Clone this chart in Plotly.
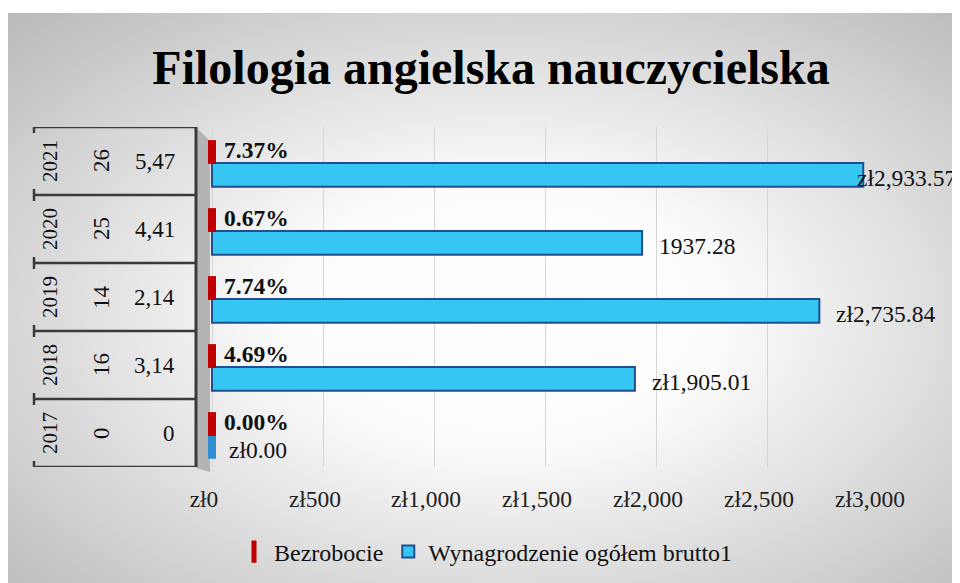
import base64
import plotly.graph_objects as go

# ---- data (top row first) ----
years = ["2021", "2020", "2019", "2018", "2017"]
graduates = ["26", "25", "14", "16", "0"]
ratio = ["5,47", "4,41", "2,14", "3,14", "0"]
unemployment = [0.0737, 0.0067, 0.0774, 0.0469, 0.0]
wages = [2933.57, 1937.28, 2735.84, 1905.01, 0.0]
wage_labels = ["zł2,933.57", "1937.28", "zł2,735.84", "zł1,905.01", "zł0.00"]
x_tickvals = [0, 500, 1000, 1500, 2000, 2500, 3000]
x_ticktext = ["zł0", "zł500", "zł1,000", "zł1,500", "zł2,000", "zł2,500", "zł3,000"]

# label horizontal offsets in pixels (style)
wage_label_shift = [-8, 15, 15, 15, 15]

# page has an 8px body margin: figure is 952x575 placed at (8, 8)
W, H = 952, 575
OFF = 8
FONT = "Liberation Serif, Times New Roman, serif"


def px(x):
    return (x - OFF) / W


def py(y):
    return 1 - (y - OFF) / H


# axis: value 0 at x=212px, 3000 at x=878px; small negative margin so the
# zero-value blocks are not clipped
X_MIN, X_MAX = -20, 3000
scale = (878 - 212) / 3000
left_px = 212 + X_MIN * scale

n = len(years)
RED_SHIFT = 0.132  # red markers sit this many rows above the row centre

# background radial gradient (style only)
svg = (
    '<svg xmlns="http://www.w3.org/2000/svg" width="952" height="570" '
    'preserveAspectRatio="none"><defs><radialGradient id="g" cx="0.52" cy="0.53" r="0.75">'
    '<stop offset="0" stop-color="#ffffff"/><stop offset="0.3" stop-color="#fcfcfc"/>'
    '<stop offset="1" stop-color="#b8b8b8"/></radialGradient></defs>'
    '<rect width="952" height="570" fill="url(#g)"/></svg>'
)
bg_uri = "data:image/svg+xml;base64," + base64.b64encode(svg.encode()).decode()

fig = go.Figure()

fig.add_trace(go.Scatter(
    y=years, x=unemployment, yaxis="y2", mode="markers", name="Bezrobocie",
    marker=dict(symbol="line-ns", size=17, color="#c00000",
                line=dict(color="#c00000", width=8)),
    hoverinfo="skip", legendrank=1, cliponaxis=False,
))

blue_line_w = [8 if v == 0 else 2 for v in wages]
blue_line_c = ["#2d8fd0" if v == 0 else "#1f4f8f" for v in wages]
fig.add_trace(go.Bar(
    y=years, x=wages, orientation="h", name="Wynagrodzenie ogółem brutto1",
    marker=dict(color="#35c6f4", line=dict(color=blue_line_c, width=blue_line_w)),
    offset=0.03, width=0.35, hoverinfo="skip", legendrank=2, cliponaxis=False,
))

LBL = 23.5
annotations = []
for i, u in enumerate(unemployment):
    annotations.append(dict(
        x=u, y=i, xref="x", yref="y", text=f"<b>{u:.2%}</b>", showarrow=False,
        xanchor="left", yanchor="middle", xshift=10, yshift=11,
        font=dict(family=FONT, size=LBL, color="#111111"),
    ))
for i, (w, lab) in enumerate(zip(wages, wage_labels)):
    annotations.append(dict(
        x=w, y=i, xref="x", yref="y", text=lab, showarrow=False,
        xanchor="left", yanchor="middle", xshift=wage_label_shift[i], yshift=-17,
        font=dict(family=FONT, size=LBL, color="#111111"),
    ))
for i, (yr, g, r) in enumerate(zip(years, graduates, ratio)):
    annotations.append(dict(
        x=px(50), y=i, xref="paper", yref="y", text=yr, showarrow=False,
        textangle=-90, xanchor="center", yanchor="middle",
        font=dict(family=FONT, size=21, color="#111111"),
    ))
    annotations.append(dict(
        x=px(101), y=i, xref="paper", yref="y", text=g, showarrow=False,
        textangle=-90, xanchor="center", yanchor="middle",
        font=dict(family=FONT, size=23, color="#111111"),
    ))
    annotations.append(dict(
        x=px(177), y=i, xref="paper", yref="y", text=r, showarrow=False,
        xanchor="right", yanchor="middle",
        font=dict(family=FONT, size=23, color="#111111"),
    ))

shapes = []
# 3D side wall
shapes.append(dict(
    type="path", xref="paper", yref="paper", layer="below",
    path=(f"M {px(196)},{py(127)} L {px(210)},{py(141)} L {px(210)},{py(472)} "
          f"L {px(196)},{py(468)} Z"),
    fillcolor="#b4b4b4", line=dict(width=0),
))
for k in range(n + 1):
    shapes.append(dict(
        type="line", xref="paper", yref="y", x0=px(33), x1=px(196),
        y0=k - 0.5, y1=k - 0.5, line=dict(color="#3a3a3a", width=2.5),
    ))
    shapes.append(dict(
        type="line", xref="paper", yref="y", x0=px(34), x1=px(34),
        ysizemode="pixel", yanchor=k - 0.5, y0=-6, y1=6,
        line=dict(color="#3a3a3a", width=2.5),
    ))
shapes.append(dict(
    type="line", xref="paper", yref="y", x0=px(196), x1=px(196),
    y0=-0.5, y1=n - 0.5, line=dict(color="#3a3a3a", width=3),
))

fig.update_layout(
    template="none",
    width=W, height=H, autosize=False,
    margin=dict(l=0, r=0, t=0, b=0),
    paper_bgcolor="white", plot_bgcolor="rgba(0,0,0,0)",
    font=dict(family=FONT, size=22, color="#111111"),
    barmode="overlay",
    title=dict(
        text="<b>Filologia angielska nauczycielska</b>",
        x=px(491), y=py(67), xref="paper", yref="paper",
        xanchor="center", yanchor="middle",
        font=dict(family=FONT, size=48, color="#000000"),
    ),
    xaxis=dict(
        domain=[px(left_px), px(878)], range=[X_MIN, X_MAX],
        tickvals=x_tickvals, ticktext=x_ticktext,
        tickfont=dict(family=FONT, size=23.5, color="#222222"),
        showgrid=True, gridcolor="#d6d6d6", gridwidth=1,
        zeroline=False, showline=False, ticks="",
        ticklabelshift=-8, ticklabelstandoff=15, automargin=False,
    ),
    yaxis=dict(
        domain=[py(467), py(127)], type="category",
        categoryorder="array", categoryarray=years,
        range=[n - 0.5, -0.5],
        showticklabels=False, showgrid=False, zeroline=False,
        showline=False, ticks="", automargin=False,
    ),
    yaxis2=dict(
        overlaying="y", type="category",
        categoryorder="array", categoryarray=years,
        range=[n - 0.5 + RED_SHIFT, -0.5 + RED_SHIFT],
        visible=False, showgrid=False, zeroline=False, automargin=False,
    ),
    legend=dict(
        orientation="h", x=px(486), y=py(552), xanchor="center", yanchor="middle",
        font=dict(family=FONT, size=24, color="#111111"),
        bgcolor="rgba(0,0,0,0)", itemwidth=30,
    ),
    annotations=annotations,
    shapes=shapes,
    images=[dict(
        source=bg_uri, xref="paper", yref="paper",
        x=px(8), y=py(13), sizex=952 / W, sizey=570 / H,
        xanchor="left", yanchor="top", sizing="stretch", layer="below",
    )],
)

fig.write_html("out.html")
